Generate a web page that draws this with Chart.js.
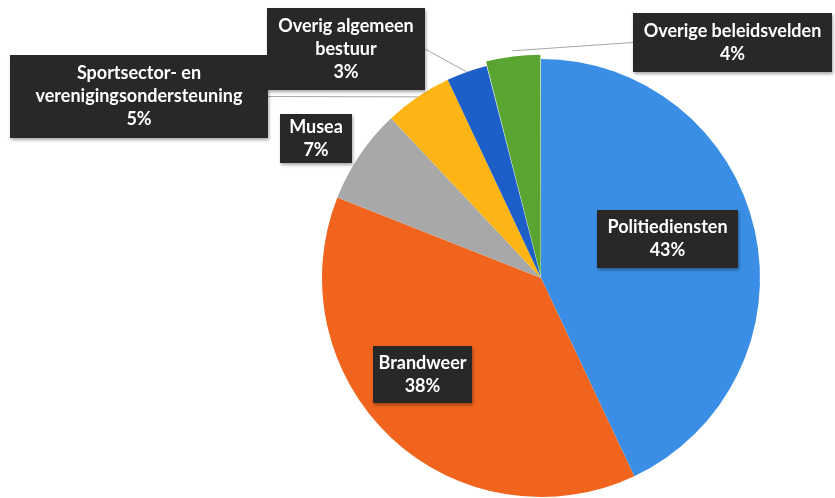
<!DOCTYPE html>
<html>
<head>
<meta charset="utf-8">
<script src="https://cdn.jsdelivr.net/npm/chart.js@4"></script>
<style>
  html, body { margin: 0; padding: 0; background: #fff; }
  #wrap { width: 835px; height: 498px; position: relative; }
</style>
</head>
<body>
<div id="wrap"><canvas id="chart"></canvas></div>
<script>
// data
const categories = ['Politiediensten', 'Brandweer', 'Musea',
    'Sportsector- en verenigingsondersteuning', 'Overig algemeen bestuur', 'Overige beleidsvelden'];
const shares = [43, 38, 7, 5, 3, 4];
const labelLines = [['Politiediensten'], ['Brandweer'], ['Musea'],
    ['Sportsector- en', 'verenigingsondersteuning'], ['Overig algemeen', 'bestuur'], ['Overige beleidsvelden']];
const colors = ['#3a8ee6', '#f0641e', '#a8a8a8', '#fdb515', '#1c5fc8', '#5aa532'];

// label boxes [x, y, w, h], as placed in the picture
const labelBoxes = [
    [597, 210, 141, 58],
    [373, 346, 99, 57],
    [280, 114, 72, 49],
    [10, 55, 258, 83],
    [267, 8, 158, 82],
    [633, 13, 199, 59],
];

const boxLabels = {
    id: 'boxLabels',
    afterDatasetsDraw(chart) {
        const ctx = chart.ctx;
        const meta = chart.getDatasetMeta(0);
        meta.data.forEach((arc, i) => {
            const [bx, by, bw, bh] = labelBoxes[i];
            const p = arc.getProps(['x', 'y', 'startAngle', 'endAngle', 'outerRadius'], true);
            const mid = (p.startAngle + p.endAngle) / 2;
            const off = arc.options.offset || 0;
            const ax = p.x + Math.cos(mid) * (p.outerRadius + off);
            const ay = p.y + Math.sin(mid) * (p.outerRadius + off);
            // leader line only for boxes outside the pie and away from their slice
            const outside = Math.hypot(bx + bw / 2 - p.x, by + bh / 2 - p.y) > p.outerRadius;
            const nx = Math.max(bx, Math.min(ax, bx + bw));
            const ny = Math.max(by, Math.min(ay, by + bh));
            if (outside && Math.hypot(ax - nx, ay - ny) > 15) {
                const side = ax > bx + bw || ax < bx;
                const ex = ax > bx + bw ? bx + bw : (ax < bx ? bx : nx);
                const ey = side ? by + bh / 2 : ny;
                ctx.save();
                ctx.strokeStyle = '#a6a6a6';
                ctx.lineWidth = 1;
                ctx.beginPath();
                ctx.moveTo(ax, ay);
                ctx.lineTo(ex, ey);
                ctx.stroke();
                ctx.restore();
            }
            ctx.save();
            ctx.shadowColor = 'rgba(0,0,0,0.35)';
            ctx.shadowBlur = 3;
            ctx.shadowOffsetX = 1;
            ctx.shadowOffsetY = 2;
            ctx.fillStyle = '#2a2826';
            ctx.fillRect(bx, by, bw, bh);
            ctx.restore();

            const lines = labelLines[i].concat([shares[i] + '%']);
            const lh = 23;
            ctx.save();
            ctx.fillStyle = '#ffffff';
            ctx.font = 'bold 18px Lato, "Open Sans", sans-serif';
            ctx.textAlign = 'center';
            ctx.textBaseline = 'middle';
            const top = by + bh / 2 - (lines.length - 1) * lh / 2;
            lines.forEach((t, k) => ctx.fillText(t, bx + bw / 2, top + k * lh));
            ctx.restore();
        });
    }
};

new Chart('chart', {
    type: 'pie',
    data: {
        labels: categories,
        datasets: [{
            data: shares,
            backgroundColor: colors,
            borderWidth: 0,
            offset: [0, 0, 0, 0, 0, 10],
        }],
    },
    options: {
        responsive: true,
        maintainAspectRatio: false,
        animation: false,
        radius: 219,
        layout: { padding: { left: 297, right: 50, top: 58, bottom: 0 } },
        plugins: {
            legend: { display: false },
            tooltip: { enabled: false },
        },
    },
    plugins: [boxLabels],
});
</script>
</body>
</html>
